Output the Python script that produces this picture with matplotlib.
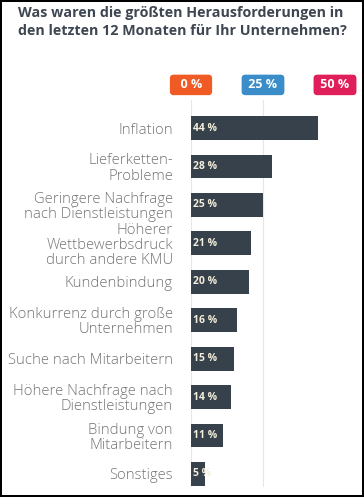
import matplotlib.pyplot as plt

categories = ["Inflation", "Lieferketten-\nProbleme", "Geringere Nachfrage\nnach Dienstleistungen",
              "Höherer\nWettbewerbsdruck\ndurch andere KMU", "Kundenbindung",
              "Konkurrenz durch große\nUnternehmen", "Suche nach Mitarbeitern",
              "Höhere Nachfrage nach\nDienstleistungen", "Bindung von\nMitarbeitern", "Sonstiges"]
values = [44, 28, 25, 21, 20, 16, 15, 14, 11, 5]
ticks = [0, 25, 50]
tick_colors = ["#F05A24", "#3A8DC9", "#E01F5A"]

fig = plt.figure(figsize=(3.64, 4.97), dpi=100)
fig.patch.set_edgecolor("black")
fig.patch.set_linewidth(1.5)

ax = fig.add_axes([191 / 364, 10 / 497, 144 / 364, 387 / 497])
y = list(range(len(categories)))
ax.barh(y, values, height=0.62, color="#36414B", zorder=2)
ax.set_xlim(0, 50)
ax.set_ylim(9.34, -0.73)

for xv in ticks:
    ax.axvline(xv, color="#E6E6E6", lw=0.8, zorder=1)

for spine in ax.spines.values():
    spine.set_visible(False)
ax.set_xticks([])
ax.set_yticks(y)
ax.set_yticklabels(categories, family="Open Sans", fontweight="light",
                   fontsize=10.7, color="#747474", linespacing=1.02)
ax.tick_params(axis="y", length=0, pad=13)

for yi, v in zip(y, values):
    ax.text(0.6, yi, f"{v} %", va="center", ha="left", color="#F4EFDC",
            fontsize=7.5, fontweight="bold", family="Open Sans", zorder=3)

# coloured badges above the gridlines
trans = ax.get_xaxis_transform()
for xv, c in zip(ticks, tick_colors):
    label = f" {xv} % " if xv >= 10 else f"  {xv} %  "
    ax.text(xv, 1.039, label, transform=trans, ha="center", va="center",
            color="white", fontsize=9, fontweight="bold", family="Open Sans",
            clip_on=False,
            bbox=dict(boxstyle="round,pad=0.3,rounding_size=0.3", fc=c, ec="none"))

fig.text(18 / 364, 1 - 22 / 497,
         "Was waren die größten Herausforderungen in\nden letzten 12 Monaten für Ihr Unternehmen?",
         ha="left", va="center", fontsize=10.3, fontweight="bold", family="Open Sans",
         color="#3E4651", linespacing=1.35)

plt.savefig("out.png", dpi=100)
